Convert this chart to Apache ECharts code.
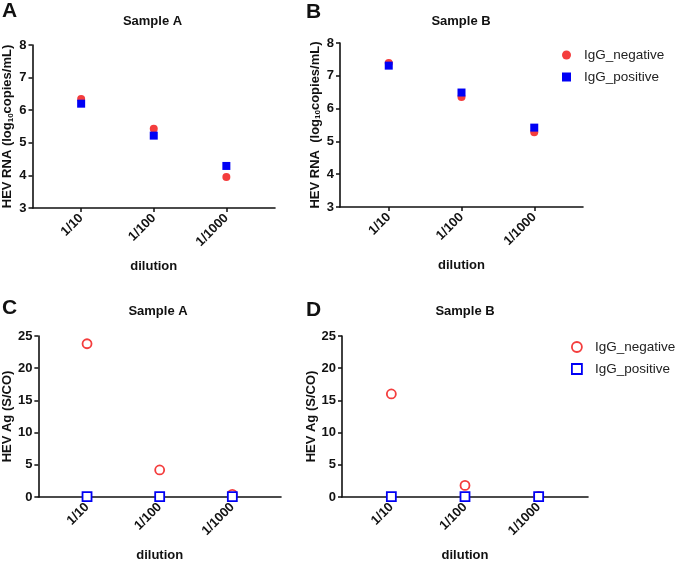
<!DOCTYPE html>
<html><head><meta charset="utf-8">
<script src="https://cdn.jsdelivr.net/npm/echarts@6/dist/echarts.min.js"></script>
<style>html,body{margin:0;padding:0;background:#fff}#c{width:675px;height:563px}</style>
</head><body><div id="c"></div>
<script>
const dilutions = ['1/10', '1/100', '1/1000'];
const seriesNames = ['IgG_negative', 'IgG_positive'];
const rnaA_neg = [6.34, 5.43, 3.95];
const rnaA_pos = [6.20, 5.22, 4.29];
const rnaB_neg = [7.39, 6.35, 5.28];
const rnaB_pos = [7.31, 6.49, 5.42];
const agA_neg = [23.8, 4.2, 0.4];
const agA_pos = [0.05, 0.05, 0.05];
const agB_neg = [16.0, 1.8, 0.1];
const agB_pos = [0.05, 0.05, 0.05];
const panelTitles = ['Sample A', 'Sample B', 'Sample A', 'Sample B'];
const panelLetters = ['A', 'B', 'C', 'D'];
const rnaTicks = {min: 3, max: 8, interval: 1};
const agTicks = {min: 0, max: 25, interval: 5};

const RED = '#f43d3d', BLUE = '#0000f5';
const FONT = 'Liberation Sans, Arial, sans-serif';
const toPts = arr => arr.map((v, i) => [i + 1, v]);

const grids = [
  {left: 30, top: 45, width: 245, height: 163},
  {left: 340, top: 43, width: 243, height: 164},
  {left: 35, top: 336, width: 246, height: 163},
  {left: 342, top: 336, width: 246, height: 163}
];

const axisLineStyle = {show: true, lineStyle: {color: '#111', width: 1.6}};
const xAxes = grids.map((g, i) => ({
  type: 'value', gridIndex: i, min: 0.33, max: 3.67,
  name: 'dilution', nameLocation: 'middle', nameGap: 52,
  nameTextStyle: {fontFamily: FONT, fontWeight: 'bold', fontSize: 13, color: '#111'},
  axisLine: axisLineStyle,
  axisTick: {show: true, length: 4, customValues: [1, 2, 3], lineStyle: {color: '#111', width: 1.5}},
  axisLabel: {customValues: [1, 2, 3], rotate: 45, margin: 8, fontFamily: FONT, fontWeight: 'bold', fontSize: 13, color: '#111',
    formatter: v => dilutions[Math.round(v) - 1] || ''},
  splitLine: {show: false}
}));
const rnaName = 'HEV RNA (log{sub|10}copies/mL)';
const rnaNameB = 'HEV RNA  (log{sub|10}copies/mL)';
const yNameStyle = {fontFamily: FONT, fontWeight: 'bold', fontSize: 13, color: '#111',
  rich: {sub: {fontFamily: FONT, fontWeight: 'bold', fontSize: 8, color: '#111', verticalAlign: 'bottom', padding: [6, 0, 0, 0]}}};
const yAxes = grids.map((g, i) => {
  const t = i < 2 ? rnaTicks : agTicks;
  return {
    type: 'value', gridIndex: i, min: t.min, max: t.max, interval: t.interval,
    name: i === 0 ? rnaName : (i === 1 ? rnaNameB : 'HEV Ag (S/CO)'),
    nameLocation: 'middle', nameGap: i < 2 ? 18 : 22,
    nameTextStyle: yNameStyle,
    axisLine: axisLineStyle,
    axisTick: {show: true, length: 4, lineStyle: {color: '#111', width: 1.5}},
    axisLabel: {margin: 6, fontFamily: FONT, fontWeight: 'bold', fontSize: 13, color: '#111'},
    splitLine: {show: false}
  };
});

function filled(name, data, idx, symbol, color) {
  return {type: 'scatter', name: name, xAxisIndex: idx, yAxisIndex: idx, data: toPts(data),
    symbol: symbol, symbolSize: 8, itemStyle: {color: color, opacity: 1}};
}
function hollow(name, data, idx, symbol, color) {
  return {type: 'scatter', name: name, xAxisIndex: idx, yAxisIndex: idx, data: toPts(data), clip: false,
    symbol: symbol, symbolSize: 9,
    itemStyle: {color: '#fff', borderColor: color, borderWidth: 1.8, opacity: 1}};
}
const series = [
  filled(seriesNames[0], rnaA_neg, 0, 'circle', RED),
  filled(seriesNames[1], rnaA_pos, 0, 'rect', BLUE),
  filled(seriesNames[0], rnaB_neg, 1, 'circle', RED),
  filled(seriesNames[1], rnaB_pos, 1, 'rect', BLUE),
  hollow(seriesNames[0], agA_neg, 2, 'circle', RED),
  hollow(seriesNames[1], agA_pos, 2, 'rect', BLUE),
  hollow(seriesNames[0], agB_neg, 3, 'circle', RED),
  hollow(seriesNames[1], agB_pos, 3, 'rect', BLUE)
];

const titleCenters = [[152.5, 21], [461, 21], [158, 311], [465, 311]];
const letterPos = [[2, 1], [306, 2], [2, 298], [306, 300]];
const graphics = [];
panelTitles.forEach((t, i) => graphics.push({type: 'text', x: titleCenters[i][0], y: titleCenters[i][1],
  style: {text: t, font: 'bold 13px ' + FONT, fill: '#111', align: 'center', verticalAlign: 'middle'}}));
panelLetters.forEach((t, i) => graphics.push({type: 'text', x: letterPos[i][0], y: letterPos[i][1],
  style: {text: t, font: 'bold 21px ' + FONT, fill: '#111'}}));

const legendText = {fontFamily: FONT, fontSize: 13.5, color: '#222', padding: [0, 0, 0, 8]};
const option = {
  animation: false,
  backgroundColor: '#fff',
  grid: grids.map(g => Object.assign({containLabel: false}, g)),
  xAxis: xAxes, yAxis: yAxes, series: series,
  legend: [
    {orient: 'vertical', left: 557, top: 43, itemWidth: 9, itemHeight: 9, itemGap: 8, textStyle: legendText,
      data: [{name: seriesNames[0], icon: 'circle', itemStyle: {color: RED}},
             {name: seriesNames[1], icon: 'rect', itemStyle: {color: BLUE}}]},
    {orient: 'vertical', left: 566, top: 335, itemWidth: 10, itemHeight: 10, itemGap: 8, textStyle: legendText,
      data: [{name: seriesNames[0], icon: 'circle', itemStyle: {color: '#fff', borderColor: RED, borderWidth: 1.8}},
             {name: seriesNames[1], icon: 'rect', itemStyle: {color: '#fff', borderColor: BLUE, borderWidth: 1.8}}]}
  ],
  graphic: graphics
};
const chart = echarts.init(document.getElementById('c'), null, {renderer: 'canvas'});
chart.setOption(option);
</script></body></html>
